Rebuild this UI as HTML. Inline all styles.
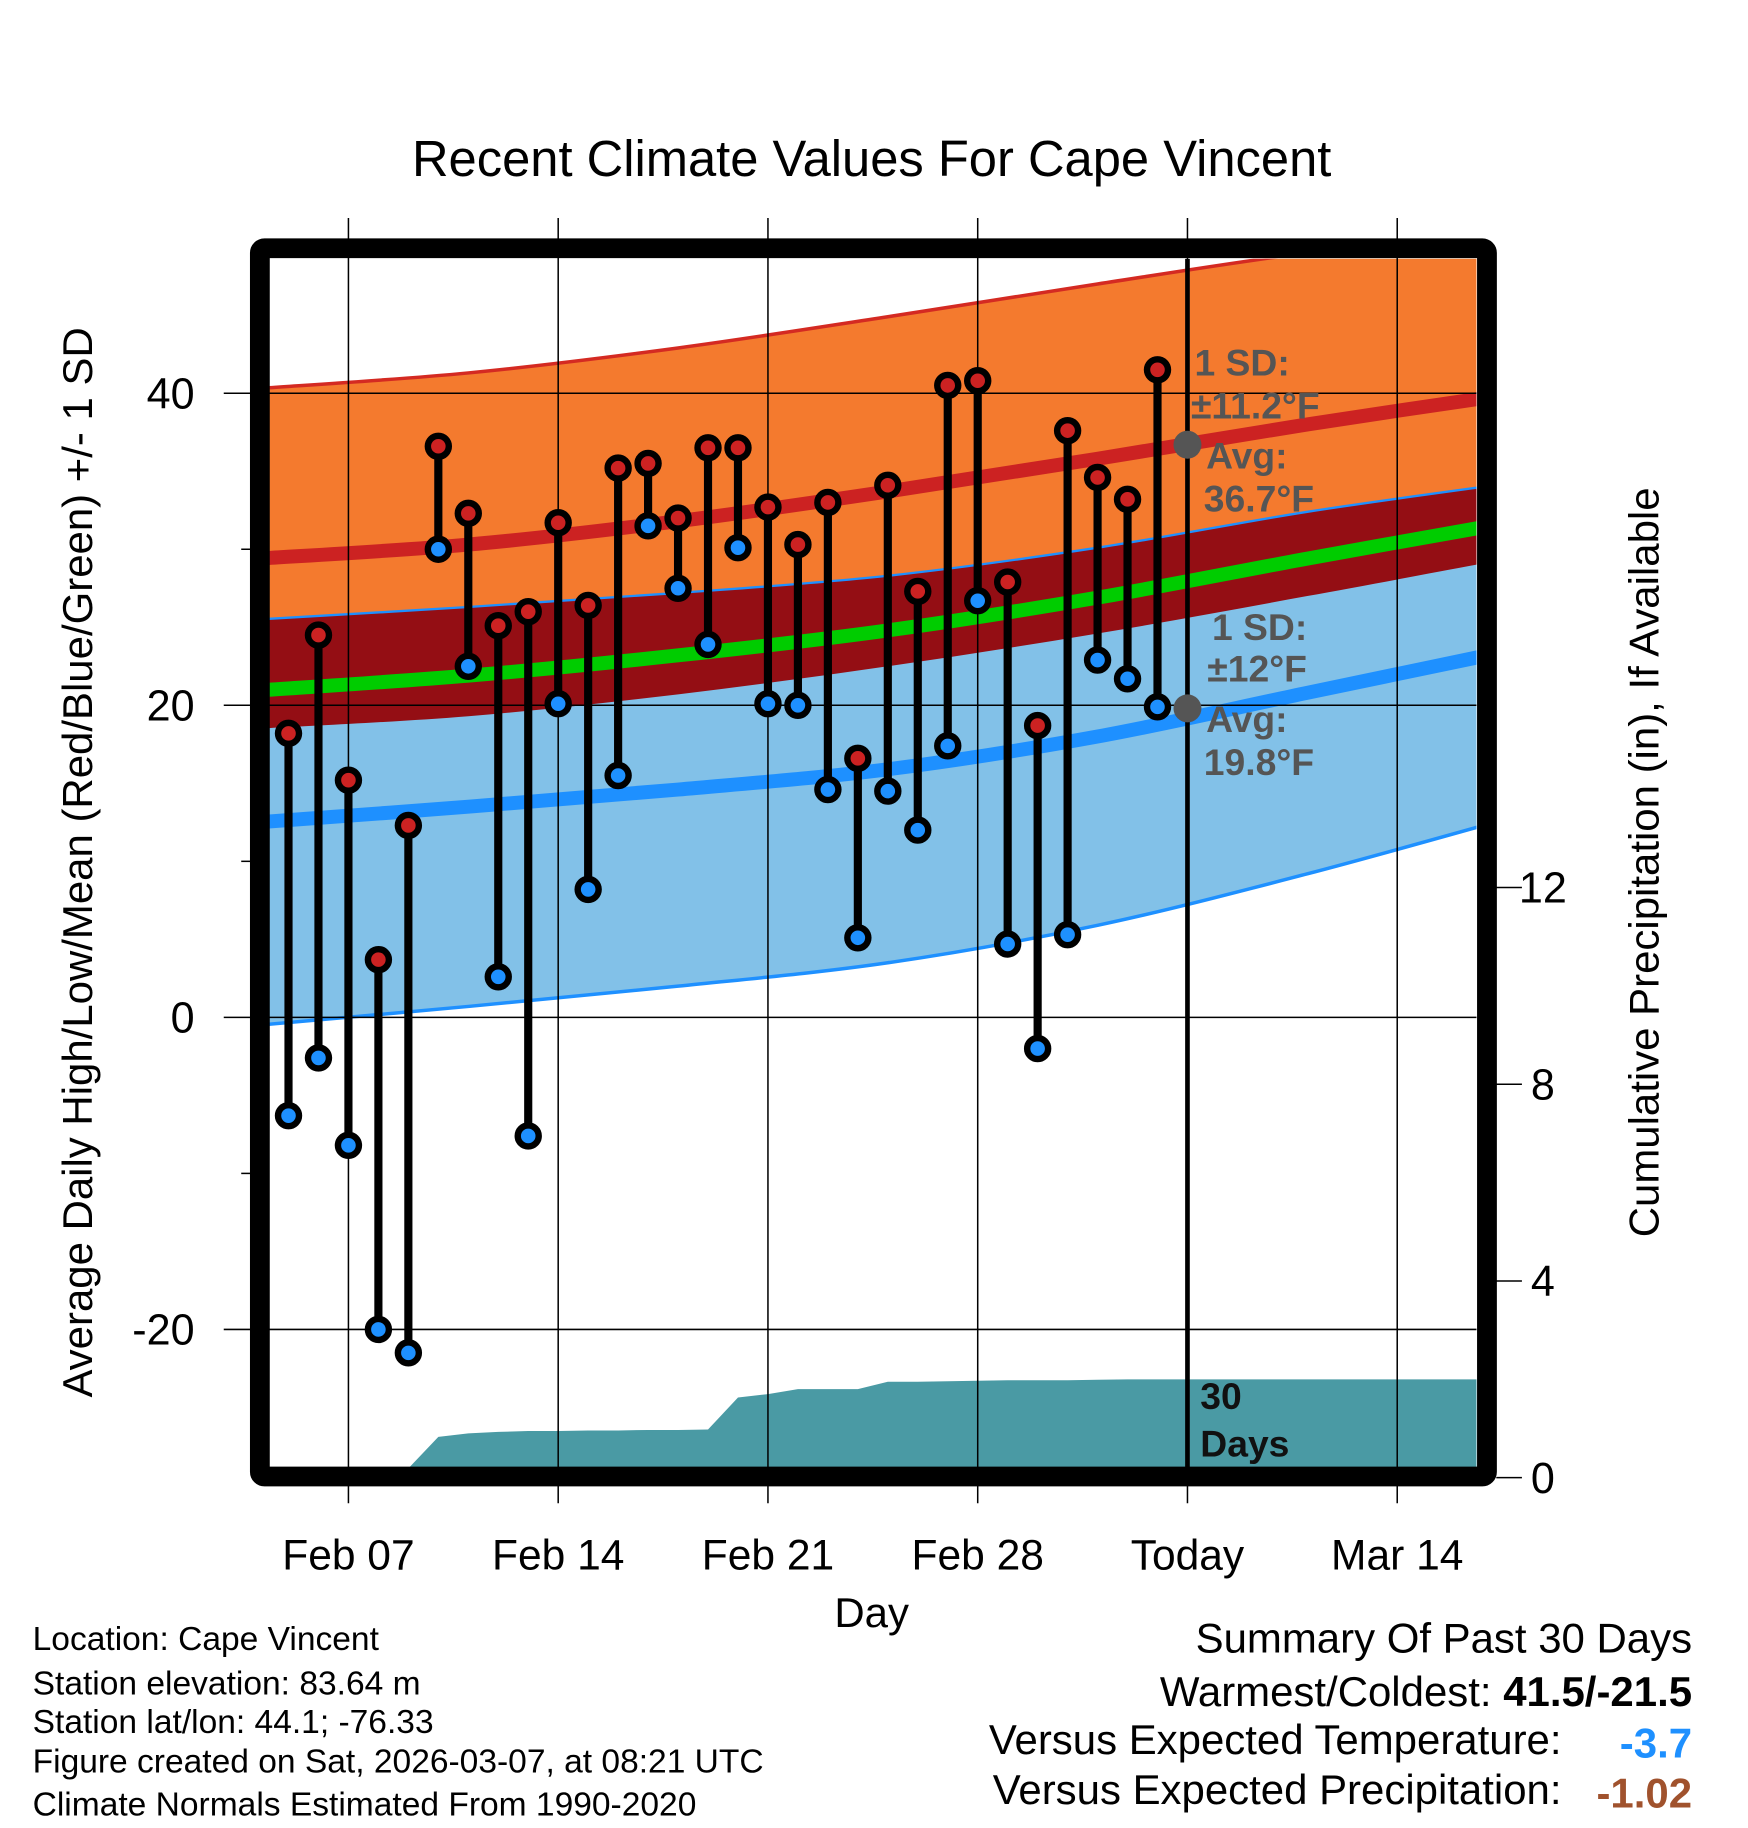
<!DOCTYPE html>
<html><head><meta charset="utf-8">
<style>html,body{margin:0;padding:0;background:#fff}svg{display:block}text{font-family:"Liberation Sans",sans-serif}</style>
</head><body>
<svg id="chart" width="1748" height="1828" viewBox="0 0 1500 1568.6" xmlns="http://www.w3.org/2000/svg">
<defs><clipPath id="plotclip"><rect x="231" y="222" width="1036" height="1038"/></clipPath></defs>
<rect x="0" y="0" width="1500" height="1569" fill="#fff"/>
<text x="748" y="151" font-size="43.5" text-anchor="middle">Recent Climate Values For Cape Vincent</text>
<g id="bands" clip-path="url(#plotclip)"></g>
<g id="grid"></g>
<g id="marks" clip-path="url(#plotclip)"></g>
<g id="annot">
<text font-size="32" font-weight="bold" fill="#555"><tspan x="1025" y="322">1 SD:</tspan><tspan x="1022" y="359">±11.2°F</tspan></text>
<text font-size="32" font-weight="bold" fill="#555"><tspan x="1035" y="402">Avg:</tspan><tspan x="1033" y="439">36.7°F</tspan></text>
<text font-size="32" font-weight="bold" fill="#555"><tspan x="1040" y="549">1 SD:</tspan><tspan x="1036" y="585">±12°F</tspan></text>
<text font-size="32" font-weight="bold" fill="#555"><tspan x="1035" y="628">Avg:</tspan><tspan x="1033" y="665">19.8°F</tspan></text>
<text font-size="32" font-weight="bold" fill="#111"><tspan x="1030" y="1209">30</tspan><tspan x="1030" y="1250">Days</tspan></text>
</g>
<rect x="223" y="213" width="1053" height="1054" fill="none" stroke="#000" stroke-width="17" rx="4"/>
<text x="748" y="1396" font-size="36" text-anchor="middle">Day</text>
<text transform="translate(79,740) rotate(-90)" font-size="36" text-anchor="middle">Average Daily High/Low/Mean (Red/Blue/Green) +/- 1 SD</text>
<text transform="translate(1423,740) rotate(-90)" font-size="36" text-anchor="middle">Cumulative Precipitation (in), If Available</text>
<g font-size="28.8">
<text x="28" y="1416">Location: Cape Vincent</text>
<text x="28" y="1454">Station elevation: 83.64 m</text>
<text x="28" y="1487">Station lat/lon: 44.1; -76.33</text>
<text x="28" y="1521">Figure created on Sat, 2026-03-07, at 08:21 UTC</text>
<text x="28" y="1558">Climate Normals Estimated From 1990-2020</text>
</g>
<g font-size="36" text-anchor="end">
<text x="1452" y="1418">Summary Of Past 30 Days</text>
<text x="1452" y="1464">Warmest/Coldest: <tspan font-weight="bold">41.5/-21.5</tspan></text>
<text x="1340" y="1505">Versus Expected Temperature:</text>
<text x="1452" y="1508" font-weight="bold" fill="#1e90ff">-3.7</text>
<text x="1340" y="1548">Versus Expected Precipitation:</text>
<text x="1452" y="1551" font-weight="bold" fill="#a0522d">-1.02</text>
</g>
</svg>
<script>
// Data arrays
const obsDays = ["Feb 05","Feb 06","Feb 07","Feb 08","Feb 09","Feb 10","Feb 11","Feb 12","Feb 13","Feb 14","Feb 15","Feb 16","Feb 17","Feb 18","Feb 19","Feb 20","Feb 21","Feb 22","Feb 23","Feb 24","Feb 25","Feb 26","Feb 27","Feb 28","Mar 01","Mar 02","Mar 03","Mar 04","Mar 05","Mar 06"];
const obsHigh = [18.2,24.5,15.2,3.7,12.3,36.6,32.3,25.1,26.0,31.7,26.4,35.2,35.5,32.0,36.5,36.5,32.7,30.3,33.0,16.6,34.1,27.3,40.5,40.8,27.9,18.7,37.6,34.6,33.2,41.5];
const obsLow = [-6.3,-2.6,-8.2,-20.0,-21.5,30.0,22.5,2.6,-7.6,20.1,8.2,15.5,31.5,27.5,23.9,30.1,20.1,20.0,14.6,5.1,14.5,12.0,17.4,26.7,4.7,-2.0,5.3,22.9,21.7,19.9];
const cumPrecip = [0,0,0,0,0,0.83,0.9,0.93,0.95,0.95,0.96,0.96,0.97,0.97,0.98,1.63,1.7,1.8,1.8,1.8,1.95,1.95,1.96,1.97,1.98,1.98,1.98,1.99,2.0,2.0];
const normDays = [-3,4,11,18,25,32,39]; // days relative to Feb 07
const normHigh = [29.4,30.3,31.8,33.7,35.8,38.0,40.0];
const normLow = [12.5,13.5,14.6,15.9,18.0,20.8,23.6];
const highSD = [10.9,11.0,11.1,11.2,11.2,11.0,10.5];
const lowSD = [13.0,12.8,12.6,12.4,12.1,11.6,10.7];
const xTickLabels = ["Feb 07","Feb 14","Feb 21","Feb 28","Today","Mar 14"];
const xTickDays = [0,7,14,21,28,35];
const yTicks = [40,20,0,-20];
const yMinorTicks = [30,10,-10];
const y2Ticks = [0,4,8,12];
const todayDay = [28];
const todayAvg = [36.7,19.8];

const NS="http://www.w3.org/2000/svg";
const X0=299, DX=25.714;
const xS = d => X0 + d*DX;
const yS = v => 873 - v*13.39;
const y2S = p => 1268 - p*42.2;
const firstObs = -2;
function mk(tag, attrs, parent){const e=document.createElementNS(NS,tag);for(const k in attrs)e.setAttribute(k,attrs[k]);parent.appendChild(e);return e;}
function smoothPts(days, vals){
  const p=days.map((d,i)=>[xS(d),yS(vals[i])]);
  let s=`M${p[0][0]},${p[0][1]}`;
  for(let i=0;i<p.length-1;i++){const p0=p[i-1]||p[i],p1=p[i],p2=p[i+1],p3=p[i+2]||p2;
    s+=` C${p1[0]+(p2[0]-p0[0])/6},${p1[1]+(p2[1]-p0[1])/6} ${p2[0]-(p3[0]-p1[0])/6},${p2[1]-(p3[1]-p1[1])/6} ${p2[0]},${p2[1]}`;}
  return s;}
function bandPath(up, lo){
  const a=smoothPts(normDays,up);
  const rd=normDays.slice().reverse(), rl=lo.slice().reverse();
  const b=smoothPts(rd,rl).replace(/^M/,'L');
  return a+' '+b+' Z';}
const bands=document.getElementById('bands');
const hiUp=normHigh.map((v,i)=>v+highSD[i]), hiLo=normHigh.map((v,i)=>v-highSD[i]);
const loUp=normLow.map((v,i)=>v+lowSD[i]), loLo=normLow.map((v,i)=>v-lowSD[i]);
const mean=normHigh.map((v,i)=>(v+normLow[i])/2);
let e;
e=mk('path',{d:bandPath(hiUp,hiLo),fill:'#f47a2e'},bands);


e=mk('path',{d:bandPath(loUp,loLo),fill:'#82c1e8'},bands);


e=mk('path',{d:bandPath(loUp,hiLo),fill:'#940e14'},bands);


e=mk('path',{d:smoothPts(normDays,hiUp),fill:'none',stroke:'#d42a22',"stroke-width":3},bands);


e=mk('path',{d:smoothPts(normDays,loUp),fill:'none',stroke:'#1e90ff',"stroke-width":2},bands);


e=mk('path',{d:smoothPts(normDays,loLo),fill:'none',stroke:'#1e90ff',"stroke-width":3},bands);


e=mk('path',{d:smoothPts(normDays,normHigh),fill:'none',stroke:'#cc2222',"stroke-width":12},bands);


e=mk('path',{d:smoothPts(normDays,mean),fill:'none',stroke:'#00cc00',"stroke-width":12},bands);


e=mk('path',{d:smoothPts(normDays,normLow),fill:'none',stroke:'#1e90ff',"stroke-width":12},bands);


let pd=`M${xS(firstObs)},1260`;
cumPrecip.forEach((p,i)=>{pd+=` L${xS(firstObs+i)},${Math.min(1260,y2S(p))}`;});
pd+=` L1270,${Math.min(1260,y2S(cumPrecip[cumPrecip.length-1]))} L1270,1260 Z`;
e=mk('path',{d:pd,fill:'#4a9aa4'},bands);



const grid=document.getElementById('grid');
xTickDays.forEach((d,i)=>{
  e=mk('line',{x1:xS(d),x2:xS(d),y1:187,y2:1290,stroke:'#000','stroke-width':1.3},grid);
  
  
  e=mk('text',{x:xS(d),y:1347,'font-size':36.5,'text-anchor':'middle'},grid);
  e.textContent=xTickLabels[i];
  
  
});
yTicks.forEach(v=>{
  e=mk('line',{x1:192,x2:1267,y1:yS(v),y2:yS(v),stroke:'#000','stroke-width':1.3},grid);
  
  
  e=mk('text',{x:167,y:yS(v)+13,'font-size':37,'text-anchor':'end'},grid);
  e.textContent=v;
  
  
});
yMinorTicks.forEach(v=>{
  e=mk('line',{x1:207,x2:215,y1:yS(v),y2:yS(v),stroke:'#000','stroke-width':1.3},grid);
  
  
});
y2Ticks.forEach(p=>{
  e=mk('line',{x1:1284,x2:1306,y1:y2S(p),y2:y2S(p),stroke:'#000','stroke-width':1.3},grid);
  
  
  e=mk('text',{x:1324,y:y2S(p)+13,'font-size':37,'text-anchor':'middle'},grid);
  e.textContent=p;
  
  
});

const marks=document.getElementById('marks');
obsHigh.forEach((h,i)=>{
  const x=xS(firstObs+i);
  e=mk('line',{x1:x,x2:x,y1:yS(h),y2:yS(obsLow[i]),stroke:'#000','stroke-width':7},marks);
  
  
});
e=mk('line',{x1:xS(todayDay[0]),x2:xS(todayDay[0]),y1:222,y2:1260,stroke:'#000','stroke-width':4},marks);


e=mk('circle',{cx:xS(todayDay[0]),cy:yS(todayAvg[0]),r:12,fill:'#555'},marks);


e=mk('circle',{cx:xS(todayDay[0]),cy:yS(todayAvg[1]),r:12,fill:'#555'},marks);


obsHigh.forEach((h,i)=>{
  const x=xS(firstObs+i);
  e=mk('circle',{cx:x,cy:yS(h),r:9,fill:'#cc2222',stroke:'#000','stroke-width':5.5},marks);
  
  
  e=mk('circle',{cx:x,cy:yS(obsLow[i]),r:9,fill:'#1e90ff',stroke:'#000','stroke-width':5.5},marks);
  
  
});
</script>
</body></html>
